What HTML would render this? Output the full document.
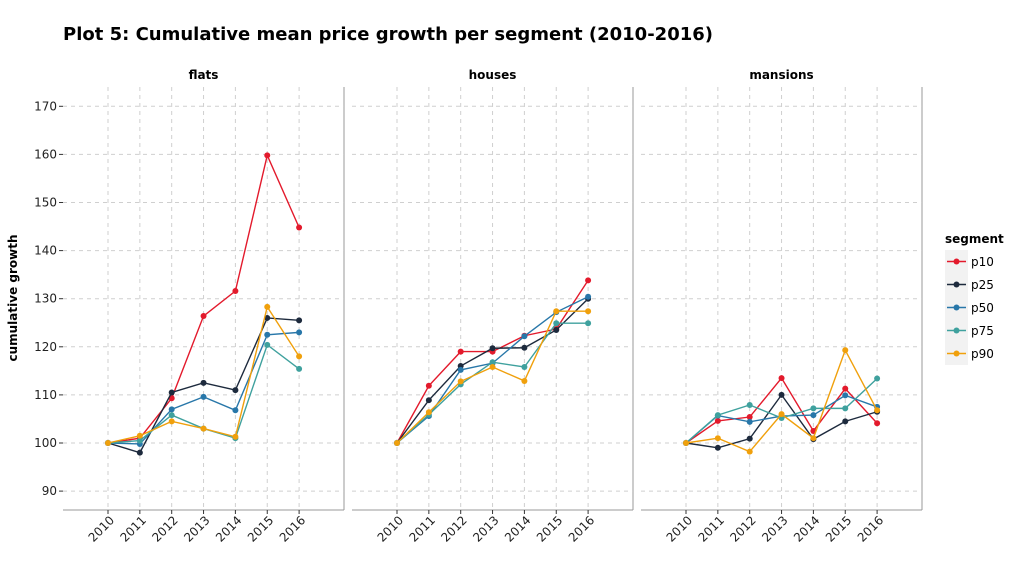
<!DOCTYPE html>
<html><head><meta charset="utf-8"><style>
body{margin:0;background:#fff;font-family:"Liberation Sans","DejaVu Sans",sans-serif}
svg text{font-family:"DejaVu Sans","Liberation Sans",sans-serif}
</style></head><body>
<svg id="c" width="1024" height="576" xmlns="http://www.w3.org/2000/svg">
<text x="63" y="40" font-size="18" font-weight="bold" fill="#000">Plot 5: Cumulative mean price growth per segment (2010-2016)</text>
<text transform="translate(17,298) rotate(-90)" text-anchor="middle" font-size="12" font-weight="bold">cumulative growth</text>
</svg>
<script>
const years=[2010,2011,2012,2013,2014,2015,2016];
const panels=["flats","houses","mansions"];
const segments=["p10","p25","p50","p75","p90"];
const yTicks=[90,100,110,120,130,140,150,160,170];
const flatsP10=[100,101,109.3,126.4,131.6,159.8,144.8];
const flatsP25=[100,98,110.5,112.5,111,126,125.5];
const flatsP50=[100,99.8,107,109.6,106.8,122.5,123];
const flatsP75=[100,100.5,105.8,103,101,120.4,115.4];
const flatsP90=[100,101.5,104.5,103,101.3,128.3,118];
const housesP10=[100,111.9,119,119,122.3,123.7,133.8];
const housesP25=[100,108.9,116,119.7,119.8,123.5,130];
const housesP50=[100,105.6,115.2,116.6,122.2,127.2,130.4];
const housesP75=[100,105.9,112.2,116.8,115.8,124.9,124.9];
const housesP90=[100,106.4,112.8,115.8,112.9,127.4,127.4];
const mansionsP10=[100,104.6,105.4,113.5,102.5,111.3,104.1];
const mansionsP25=[100,99,100.9,110,100.8,104.5,106.5];
const mansionsP50=[100,105.7,104.4,105.6,105.8,109.9,107.5];
const mansionsP75=[100,105.8,107.9,105.2,107.2,107.2,113.4];
const mansionsP90=[100,101,98.2,106,101,119.3,106.8];
const series={flats:[flatsP10,flatsP25,flatsP50,flatsP75,flatsP90],houses:[housesP10,housesP25,housesP50,housesP75,housesP90],mansions:[mansionsP10,mansionsP25,mansionsP50,mansionsP75,mansionsP90]};
const colors=["#e31a2c","#1d2a3d","#2877a9","#3fa19e","#f0a00c"];
const NS="http://www.w3.org/2000/svg";
const svg=document.getElementById('c');
function mk(t,a,p){const e=document.createElementNS(NS,t);for(const k in a)e.setAttribute(k,a[k]);(p||svg).appendChild(e);return e;}
const plotTop=87,plotBot=510,pw=281;
const yScale=v=>443-(v-100)*4.81;
panels.forEach((pn,pi)=>{
  const x0=63+pi*289;
  const xScale=i=>x0+45+i*31.85;
  const g=mk('g',{});
  
  
  mk('rect',{x:x0,y:plotTop,width:pw,height:plotBot-plotTop,fill:'#fff'},g);
  mk('line',{x1:x0+pw,y1:plotTop,x2:x0+pw,y2:plotBot,stroke:'#999','stroke-width':1},g);
  mk('line',{x1:x0,y1:plotBot,x2:x0+pw,y2:plotBot,stroke:'#999','stroke-width':1},g);
  const st=mk('text',{x:x0+pw/2,y:79,'text-anchor':'middle','font-size':12,'font-weight':'bold'},g);
  st.textContent=pn;
  
  
  yTicks.forEach(v=>{
    const y=yScale(v);
    mk('line',{x1:x0,y1:y,x2:x0+pw,y2:y,stroke:'#cfcfcf','stroke-dasharray':'4,4'},g);
    if(pi==0){
      mk('line',{x1:x0-4,y1:y,x2:x0,y2:y,stroke:'#333'},g);
      const t=mk('text',{x:x0-6,y:y+4,'text-anchor':'end','font-size':12,fill:'#222'},g);
      t.textContent=v;
      
      
    }
  });
  years.forEach((yr,i)=>{
    const x=xScale(i);
    mk('line',{x1:x,y1:plotTop,x2:x,y2:plotBot,stroke:'#cfcfcf','stroke-dasharray':'4,4'},g);
    mk('line',{x1:x,y1:plotBot,x2:x,y2:plotBot+4,stroke:'#333'},g);
    const t=mk('text',{transform:`translate(${x+7},${plotBot+11}) rotate(-45)`,'text-anchor':'end','font-size':12,fill:'#222'},g);
    t.textContent=yr;
    
    
  });
  series[pn].forEach((vals,si)=>{
    const pts=vals.map((v,i)=>xScale(i)+','+yScale(v)).join(' ');
    const pl=mk('polyline',{points:pts,fill:'none',stroke:colors[si],'stroke-width':1.4},g);
    
    
    vals.forEach((v,i)=>{
      const c=mk('circle',{cx:xScale(i),cy:yScale(v),r:3,fill:colors[si]},g);
      
      
    });
  });
});
const lg=mk('g',{});


const lt=mk('text',{x:945,y:243,'font-size':12,'font-weight':'bold'},lg);
lt.textContent='segment';
segments.forEach((s,i)=>{
  const y=250+i*23;
  const e=mk('g',{},lg);
  
  
  mk('rect',{x:945,y:y,width:23,height:23,fill:'#f2f2f2'},e);
  mk('line',{x1:947,y1:y+11.5,x2:966,y2:y+11.5,stroke:colors[i],'stroke-width':1.4},e);
  mk('circle',{cx:956.5,cy:y+11.5,r:3,fill:colors[i]},e);
  const t=mk('text',{x:971,y:y+16,'font-size':12},e);
  t.textContent=s;
});
</script>
</body></html>
